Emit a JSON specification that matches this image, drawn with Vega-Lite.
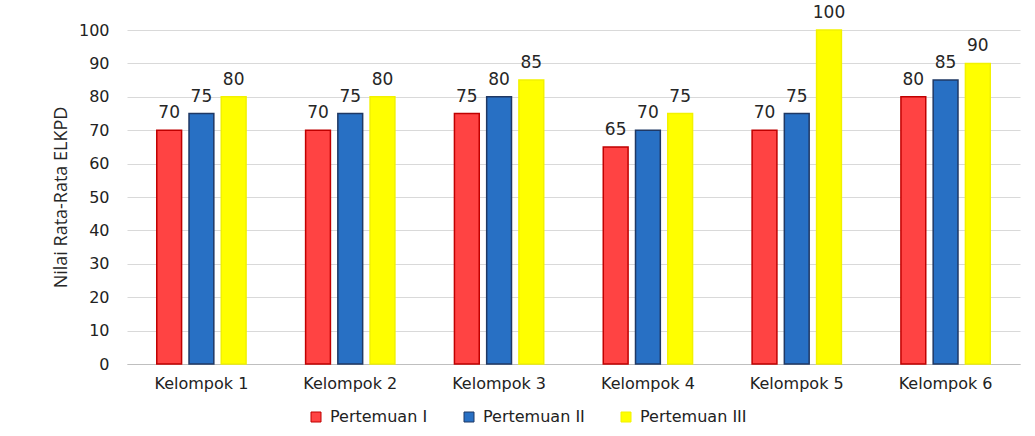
{
  "$schema": "https://vega.github.io/schema/vega-lite/v6.json",
  "autosize": "none",
  "padding": {"left": 127, "top": 30, "right": 15, "bottom": 72},
  "width": 893,
  "height": 334,
  "background": "white",
  "config": {
    "view": {"stroke": null},
    "font": "DejaVu Sans"
  },
  "data": {
    "values": [
      {"kelompok": "Kelompok 1", "pertemuan": "Pertemuan I", "nilai": 70},
      {"kelompok": "Kelompok 1", "pertemuan": "Pertemuan II", "nilai": 75},
      {"kelompok": "Kelompok 1", "pertemuan": "Pertemuan III", "nilai": 80},
      {"kelompok": "Kelompok 2", "pertemuan": "Pertemuan I", "nilai": 70},
      {"kelompok": "Kelompok 2", "pertemuan": "Pertemuan II", "nilai": 75},
      {"kelompok": "Kelompok 2", "pertemuan": "Pertemuan III", "nilai": 80},
      {"kelompok": "Kelompok 3", "pertemuan": "Pertemuan I", "nilai": 75},
      {"kelompok": "Kelompok 3", "pertemuan": "Pertemuan II", "nilai": 80},
      {"kelompok": "Kelompok 3", "pertemuan": "Pertemuan III", "nilai": 85},
      {"kelompok": "Kelompok 4", "pertemuan": "Pertemuan I", "nilai": 65},
      {"kelompok": "Kelompok 4", "pertemuan": "Pertemuan II", "nilai": 70},
      {"kelompok": "Kelompok 4", "pertemuan": "Pertemuan III", "nilai": 75},
      {"kelompok": "Kelompok 5", "pertemuan": "Pertemuan I", "nilai": 70},
      {"kelompok": "Kelompok 5", "pertemuan": "Pertemuan II", "nilai": 75},
      {"kelompok": "Kelompok 5", "pertemuan": "Pertemuan III", "nilai": 100},
      {"kelompok": "Kelompok 6", "pertemuan": "Pertemuan I", "nilai": 80},
      {"kelompok": "Kelompok 6", "pertemuan": "Pertemuan II", "nilai": 85},
      {"kelompok": "Kelompok 6", "pertemuan": "Pertemuan III", "nilai": 90}
    ]
  },
  "encoding": {
    "x": {
      "field": "kelompok", "type": "nominal",
      "scale": {"paddingInner": 0.4, "paddingOuter": 0.2},
      "axis": {
        "title": null, "labelAngle": 0, "labelFontSize": 16, "labelColor": "#222222",
        "labelPadding": 11, "ticks": false, "domainColor": "#BFBFBF", "domainWidth": 1
      }
    },
    "xOffset": {
      "field": "pertemuan", "type": "nominal",
      "sort": ["Pertemuan I", "Pertemuan II", "Pertemuan III"],
      "scale": {"paddingInner": 0.23, "paddingOuter": 0}
    },
    "y": {
      "field": "nilai", "type": "quantitative",
      "scale": {"domain": [0, 100]},
      "axis": {
        "title": "Nilai Rata-Rata ELKPD", "titleFont": "Open Sans", "titleFontSize": 18,
        "titleFontWeight": "normal", "titleColor": "#262626", "titlePadding": 8,
        "values": [0, 10, 20, 30, 40, 50, 60, 70, 80, 90, 100],
        "labelFontSize": 16, "labelColor": "#222222", "labelPadding": 18,
        "ticks": false, "domain": false, "gridColor": "#D9D9D9", "gridWidth": 1
      }
    }
  },
  "layer": [
    {
      "mark": {"type": "bar", "strokeWidth": 1.5},
      "encoding": {
        "color": {
          "field": "pertemuan", "type": "nominal",
          "sort": ["Pertemuan I", "Pertemuan II", "Pertemuan III"],
          "scale": {"domain": ["Pertemuan I", "Pertemuan II", "Pertemuan III"], "range": ["#FF4343", "#2870C4", "#FFFF00"]},
          "legend": {
            "title": null, "orient": "none", "legendX": 181, "legendY": 379,
            "direction": "horizontal", "symbolType": "square", "symbolSize": 100,
            "symbolStrokeWidth": 1, "labelFontSize": 16, "labelColor": "#222222",
            "columnPadding": 33, "labelOffset": 6
          }
        },
        "stroke": {
          "field": "pertemuan", "type": "nominal",
          "scale": {"domain": ["Pertemuan I", "Pertemuan II", "Pertemuan III"], "range": ["#C00000", "#1F3864", "#F2F200"]},
          "legend": null
        }
      }
    },
    {
      "mark": {"type": "text", "baseline": "bottom", "dy": -8, "fontSize": 17, "color": "#262626"},
      "encoding": {
        "text": {"field": "nilai", "type": "quantitative"}
      }
    }
  ]
}
